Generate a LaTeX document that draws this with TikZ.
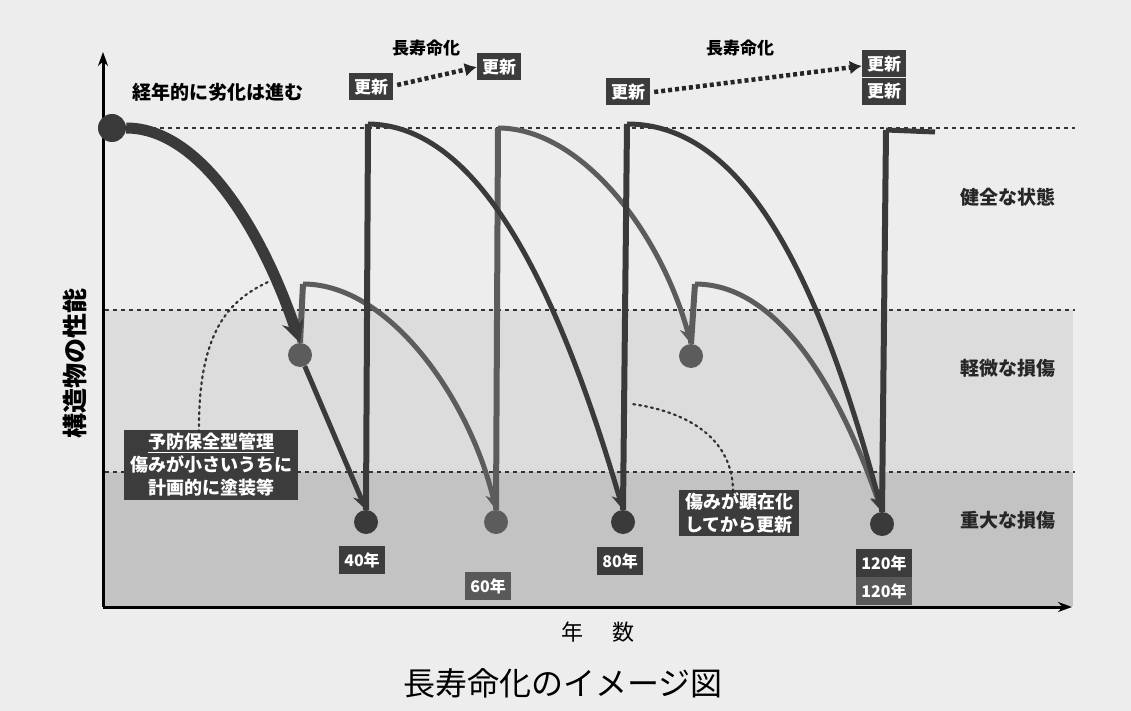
\documentclass[tikz,border=0pt]{standalone}
\usepackage{fontspec}
\newfontfamily\jp{Noto Sans CJK JP}
\usetikzlibrary{arrows.meta}
\definecolor{paper}{HTML}{EDEDED}
\definecolor{bandmid}{HTML}{DCDCDC}
\definecolor{banddark}{HTML}{C3C3C3}
\definecolor{lineA}{HTML}{3A3A3A}
\definecolor{lineB}{HTML}{5C5C5C}
\definecolor{boxA}{HTML}{3C3C3C}
\definecolor{boxB}{HTML}{595959}
\tikzset{
  dotA/.style={circle,fill=lineA,inner sep=0pt,minimum size=24pt},
  dotB/.style={circle,fill=lineB,inner sep=0pt,minimum size=24pt},
  curveA/.style={draw=lineA,line width=5pt,-{Stealth[length=16pt,width=14pt]}},
  curveB/.style={draw=lineB,line width=5pt,-{Stealth[length=16pt,width=14pt]}},
  vertA/.style={draw=lineA,line width=6pt},
  vertB/.style={draw=lineB,line width=6pt},
  tagbox/.style={fill=boxA,text=white,font=\jp\bfseries\fontsize{17}{19}\selectfont,inner xsep=5pt,inner ysep=0pt,minimum height=27pt},
  yearbox/.style={fill=boxA,text=white,font=\jp\bfseries\fontsize{16}{18}\selectfont,inner xsep=5pt,inner ysep=0pt,minimum height=28pt},
  notebox/.style={fill=boxA,text=white,font=\jp\bfseries\fontsize{18}{23}\selectfont,align=center,inner xsep=6pt,inner ysep=3pt},
  statelabel/.style={font=\jp\bfseries\fontsize{19}{21}\selectfont,text=black!85},
  levelline/.style={dash pattern=on 4pt off 4pt,line width=1.2pt,draw=black!80},
  leader/.style={dash pattern=on 2pt off 4pt,line width=2.2pt,draw=black!80,line cap=round},
  lifearrow/.style={dash pattern=on 4pt off 3pt,line width=4.5pt,draw=black!85,-{Latex[length=12pt,width=14pt]}},
}
\begin{document}
\begin{tikzpicture}[x=1pt,y=-1pt]
\useasboundingbox (0,0) rectangle (1131,711);
\fill[paper] (0,0) rectangle (1131,711);
% bands
\fill[bandmid] (105,310) rectangle (1073,472);
\fill[banddark] (105,472) rectangle (1073,606);
% level lines
\draw[levelline] (120,128) -- (1075,128);
\draw[levelline] (105,310) -- (1075,310);
\draw[levelline] (105,472) -- (1075,472);
% axes
\coordinate (origin) at (103,607);
\coordinate (ytop) at (103,52);
\coordinate (xend) at (1072,607);
\draw[line width=3pt,-{Stealth[length=14pt,width=10pt]}] (origin) -- (ytop);
\draw[line width=3pt,-{Stealth[length=14pt,width=10pt]}] (origin) -- (xend);

% key points
\node[dotA,minimum size=28pt] (d0) at (112,128) {};
\node[dotB] (p1) at (300,355) {};
\node[dotA] (d40) at (366,522) {};
\node[dotB] (d60) at (496,522) {};
\node[dotA] (d80) at (623,522) {};
\node[dotB] (p2) at (691,356) {};
\node[dotA] (d120) at (882,524) {};
\coordinate (t40) at (368,124);
\coordinate (t60) at (498,128);
\coordinate (t80) at (627,124);
\coordinate (t120) at (886,130);
\coordinate (tend) at (935,132);
\coordinate (b1) at (303,284);
\coordinate (b2) at (695,284);

% system B (preventive)
\draw[vertB] (p1.north) -- (b1);
\draw[curveB] (b1) .. controls (390,284) and (470,400) .. (d60.north);
\draw[vertB] (d60.north) -- (t60);
\draw[curveB] (t60) .. controls (580,128) and (660,230) .. (p2.north);
\draw[vertB] (p2.north) -- (b2);
\draw[curveB] (b2) .. controls (790,284) and (850,420) .. (d120.north);

% system A (renewal)
\draw[draw=lineA,line width=11pt,-{Stealth[length=22pt,width=22pt]}] (d0) .. controls (200,128) and (262,230) .. (p1.north);
\draw[curveA] (p1) -- (d40.north);
\draw[vertA] (d40.north) -- (t40);
\draw[curveA] (t40) .. controls (470,125) and (550,260) .. (d80.north);
\draw[vertA] (d80.north) -- (t80);
\draw[curveA] (t80) .. controls (730,124) and (810,240) .. (d120.north);
\draw[vertA] (d120.north) -- (t120);
\draw[draw=lineA,line width=5pt] (t120) -- (tend);

% top labels
\node[font=\jp\bfseries\fontsize{19}{21}\selectfont] (deg) at (218,92) {経年的に劣化は進む};
\node[tagbox] (r1) at (371,87) {更新};
\node[tagbox] (r2) at (499,67) {更新};
\node[tagbox] (r3) at (628,92) {更新};
\node[tagbox] (r4) at (884,64) {更新};
\node[tagbox,anchor=north] (r5) at (r4.south) {更新};
\node[font=\jp\bfseries\fontsize{17}{19}\selectfont] (life1) at (426,48) {長寿命化};
\node[font=\jp\bfseries\fontsize{17}{19}\selectfont] (life2) at (740,48) {長寿命化};
\draw[lifearrow] (r1.east) ++(4pt,2pt) coordinate (la1) -- (r2.west);
\draw[lifearrow] (r3.east) ++(4pt,0) coordinate (la3) -- ([yshift=-2pt]r4.west);

% year labels
\node[yearbox] (y40) at (362,560) {40年};
\node[yearbox,fill=boxB] (y60) at (488,586) {60年};
\node[yearbox] (y80) at (620,561) {80年};
\node[yearbox] (y120a) at (884,563) {120年};
\node[yearbox,fill=boxB,anchor=north] (y120b) at (y120a.south) {120年};

% notes
\node[notebox] (note1) at (211,465) {\underline{予防保全型管理}\\傷みが小さいうちに\\計画的に塗装等};
\node[notebox] (note2) at (739,513) {傷みが顕在化\\してから更新};
\coordinate (n1end) at (268,282);
\coordinate (n2end) at (632,404);
\draw[leader] (note1.north) ++(-12pt,-2pt) .. controls (198,330) and (230,300) .. (n1end);
\draw[leader] (note2.north) ++(-6pt,-2pt) .. controls (733,440) and (690,412) .. (n2end);

% state labels
\node[statelabel] (s1) at (1008,197) {健全な状態};
\node[statelabel] (s2) at (1008,368) {軽微な損傷};
\node[statelabel] (s3) at (1008,520) {重大な損傷};

% axis labels
\node[font=\jp\bfseries\fontsize{25}{27}\selectfont,rotate=90] (ylab) at (75,363) {構造物の性能};
\node[font=\jp\fontsize{22}{24}\selectfont] (xlab) at (598,632) {年\hspace{1.3em}数};
\node[font=\jp\fontsize{32}{34}\selectfont] (title) at (563,683) {長寿命化のイメージ図};
\end{tikzpicture}
\end{document}
